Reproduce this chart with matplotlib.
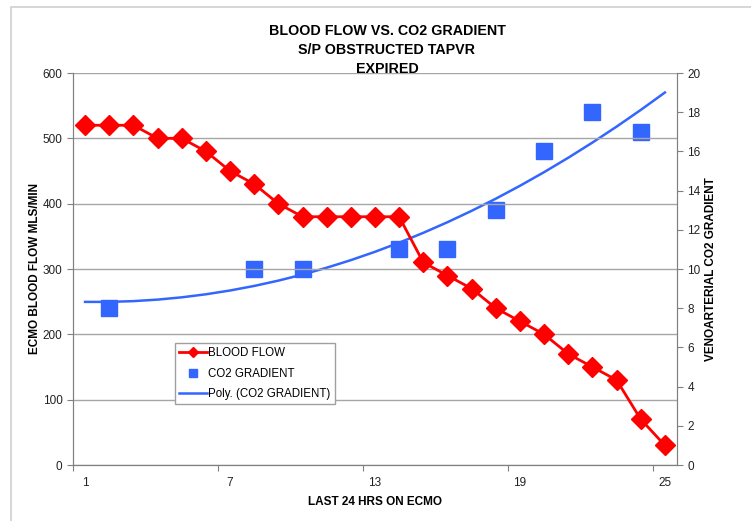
import numpy as np
import matplotlib
matplotlib.use("Agg")
import matplotlib.pyplot as plt
from matplotlib.patches import Rectangle

plt.rcParams["font.family"] = ["Liberation Sans", "DejaVu Sans"]

# hour index on the category axis
hours = list(range(1, 26))
blood_flow = [520, 520, 520, 500, 500, 480, 450, 430, 400, 380, 380, 380, 380,
              380, 310, 290, 270, 240, 220, 200, 170, 150, 130, 70, 30]
co2_hours = [2, 8, 10, 14, 16, 18, 20, 22, 24]
co2_gradient = [8, 10, 10, 11, 11, 13, 16, 18, 17]
x_labels = ["1", "7", "13", "19", "25"]

RED = "#FF0000"
BLUE = "#3366FF"
GRID = "#A6A6A6"

fig = plt.figure(figsize=(7.51, 5.21), dpi=100)
fig.patches.append(Rectangle((11 / 751, -0.1), 1.2, 1 - 7 / 521 + 0.1,
                             transform=fig.transFigure, fill=False,
                             edgecolor="#D0D0D0", linewidth=1.2))

ax = fig.add_axes([73 / 751, 1 - 465 / 521, (677 - 73) / 751, (465 - 73) / 521])
ax2 = ax.twinx()

# left axis: blood flow
ax.set_ylim(0, 600)
ax.set_yticks(range(0, 601, 100))
ax.set_xlim(0.5, 25.5)
ax.grid(axis="y", color=GRID, linewidth=1)
ax.set_axisbelow(True)
line_bf, = ax.plot(hours, blood_flow, color=RED, linewidth=2, marker="D",
                   markersize=10.5, zorder=3, label="BLOOD FLOW")

# right axis: CO2 gradient + 2nd order trendline (Excel "Poly.")
ax2.set_ylim(0, 20)
ax2.set_yticks(range(0, 21, 2))
coef = np.polyfit(co2_hours, co2_gradient, 2)
trend = np.polyval(coef, hours)
pts, = ax2.plot(co2_hours, co2_gradient, linestyle="none", marker="s",
                markersize=12, color=BLUE, zorder=3, label="CO2 GRADIENT")
trd, = ax2.plot(hours, trend, color=BLUE, linewidth=1.8, zorder=2,
                label="Poly. (CO2 GRADIENT)")
ax.set_zorder(ax2.get_zorder() + 1)
ax.patch.set_visible(False)

# category-style x axis: ticks between categories, labels every 6
ax.set_xticks([0.5, 6.5, 12.5, 18.5, 24.5])
ax.set_xticklabels([])
ax.set_xticks([1, 7, 13, 19, 25], minor=True)
ax.set_xticklabels(x_labels, minor=True)
ax.tick_params(axis="x", which="minor", length=0, pad=9)
ax.tick_params(axis="x", which="major", length=4, color="#808080")

for a in (ax, ax2):
    for s in a.spines.values():
        s.set_color("#808080")
    a.tick_params(axis="y", length=4, color="#808080", labelsize=8.5,
                  labelcolor="#222222")
ax.tick_params(axis="x", which="both", labelsize=8.5, labelcolor="#222222")
ax2.spines["top"].set_visible(False)
ax.spines["top"].set_visible(False)

ax.set_xlabel("LAST 24 HRS ON ECMO", fontsize=8.5, fontweight="bold", labelpad=5)
ax.set_ylabel("ECMO BLOOD FLOW MLS/MIN", fontsize=8.5, fontweight="bold", labelpad=1)
ax2.set_ylabel("VENOARTERIAL CO2 GRADIENT", fontsize=8.5, fontweight="bold", labelpad=3)

fig.text(387 / 751, 1 - 50 / 521,
         "BLOOD FLOW VS. CO2 GRADIENT\nS/P OBSTRUCTED TAPVR\nEXPIRED",
         ha="center", va="center", fontsize=10.3, fontweight="bold",
         linespacing=1.42)

leg = ax.legend(handles=[line_bf, pts, trd], loc="upper left",
                bbox_to_anchor=((175 - 73) / 604, (465 - 343) / 392),
                fontsize=8.3, frameon=True, fancybox=False, framealpha=1,
                edgecolor="#A0A0A0", borderpad=0.35, labelspacing=0.75,
                handlelength=2.4, handletextpad=0.15, borderaxespad=0)
leg.get_frame().set_linewidth(1)
leg.legend_handles[0].set_markersize(5)
leg.legend_handles[1].set_markersize(6)

fig.savefig("out.png", dpi=100)
